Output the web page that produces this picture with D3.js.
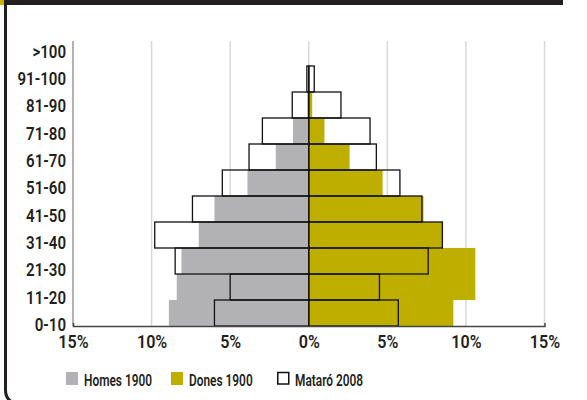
<!DOCTYPE html>
<html>
<head>
<meta charset="utf-8">
<script src="https://cdn.jsdelivr.net/npm/d3@7"></script>
<style>
  html, body { margin: 0; padding: 0; background: #fff; }
  svg { display: block; }
  text { font-family: Roboto, "Noto Sans", sans-serif; font-weight: 600; fill: #231F20; }
</style>
</head>
<body>
<svg id="chart" width="587" height="400"></svg>
<script>
// ---- data ----
const ageGroups = ["0-10","11-20","21-30","31-40","41-50","51-60","61-70","71-80","81-90","91-100",">100"];
const homes1900 = [8.9, 8.4, 8.1, 7.0, 6.0, 3.9, 2.1, 1.0, 0.1, 0, 0];
const dones1900 = [9.2, 10.6, 10.6, 8.55, 7.3, 4.7, 2.6, 1.0, 0.22, 0.05, 0];
const homes2008 = [6.0, 5.0, 8.5, 9.8, 7.4, 5.5, 3.8, 2.95, 1.05, 0.12, 0];
const dones2008 = [5.7, 4.5, 7.6, 8.5, 7.2, 5.8, 4.3, 3.9, 2.05, 0.35, 0];
const xTicks = [-15, -10, -5, 0, 5, 10, 15];
const gridTicks = [-10, -5, 0, 5, 10, 15];
const legendLabels = ["Homes 1900", "Dones 1900", "Mataró 2008"];

// ---- styles ----
const C_GRAY = "#B2B2B5", C_OLIVE = "#BEAE00", C_DARK = "#231F20", C_YELLOW = "#C8B300";
const FONT = "Roboto, 'Noto Sans', sans-serif";

const svg = d3.select("#chart");

// frame
svg.append("rect").attr("x", 0).attr("y", 0).attr("width", 563).attr("height", 5).attr("fill", C_DARK);
svg.append("rect").attr("x", 0).attr("y", 0).attr("width", 4).attr("height", 5).attr("fill", C_YELLOW);
svg.append("path").attr("d", "M5.5,5 V390 Q5.5,398.5 12,402")
  .attr("fill", "none").attr("stroke", C_DARK).attr("stroke-width", 3);

// scales
const x = d3.scaleLinear().domain([-15, 15]).range([73, 544.5]);
const y = d3.scaleBand().domain(ageGroups.slice().reverse()).range([40, 326]).padding(0);
const yLab = d3.scalePoint().domain(ageGroups.slice().reverse()).range([51, 324]);

// gridlines
svg.append("g").selectAll("line").data(gridTicks).join("line")
  .attr("x1", d => x(d)).attr("x2", d => x(d))
  .attr("y1", 41).attr("y2", 326)
  .attr("stroke", "#d8d8d8").attr("stroke-width", 1.5);

const rows = ageGroups.map((g, i) => ({ g, h19: homes1900[i], d19: dones1900[i], h08: homes2008[i], d08: dones2008[i] }));

// 1900 bars
svg.append("g").selectAll("rect").data(rows.filter(r => r.h19 > 0)).join("rect")
  .attr("x", d => x(-d.h19)).attr("width", d => x(0) - x(-d.h19))
  .attr("y", d => y(d.g)).attr("height", y.bandwidth())
  .attr("fill", C_GRAY);
svg.append("g").selectAll("rect").data(rows.filter(r => r.d19 > 0)).join("rect")
  .attr("x", x(0)).attr("width", d => x(d.d19) - x(0))
  .attr("y", d => y(d.g)).attr("height", y.bandwidth())
  .attr("fill", C_OLIVE);

// 2008 outlines
const og = svg.append("g").attr("fill", "none").attr("stroke", "#111").attr("stroke-width", 1.3);
og.selectAll("rect.m").data(rows.filter(r => r.h08 > 0)).join("rect").attr("class", "m")
  .attr("x", d => x(-d.h08)).attr("width", d => x(0) - x(-d.h08))
  .attr("y", d => y(d.g)).attr("height", y.bandwidth());
og.selectAll("rect.f").data(rows.filter(r => r.d08 > 0)).join("rect").attr("class", "f")
  .attr("x", x(0)).attr("width", d => x(d.d08) - x(0))
  .attr("y", d => y(d.g)).attr("height", y.bandwidth());

function squeeze(sel, f) {
  sel.each(function () {
    const w = this.getComputedTextLength();
    d3.select(this).attr("textLength", w * f).attr("lengthAdjust", "spacingAndGlyphs");
  });
}

// y axis
svg.append("line").attr("x1", 73).attr("x2", 73).attr("y1", 41).attr("y2", 326)
  .attr("stroke", "#999").attr("stroke-width", 1.5);
const yAx = svg.append("g").attr("transform", "translate(73,0)")
  .call(d3.axisLeft(yLab).tickSize(0).tickPadding(7));
yAx.select(".domain").remove();
yAx.selectAll("text").attr("font-size", 17.5).attr("dy", "0.36em")
  .style("font-family", FONT).style("font-weight", 600).attr("fill", C_DARK);
squeeze(yAx.selectAll("text"), 0.86);

// x axis
const xAx = svg.append("g").attr("transform", "translate(0,326)")
  .call(d3.axisBottom(x).tickValues(xTicks).tickSizeInner(0).tickSizeOuter(-3).tickFormat(d => Math.abs(d) + "%"));
xAx.select(".domain").attr("stroke", "#444").attr("stroke-width", 1.5);
xAx.selectAll("text").attr("y", 22).attr("dy", 0).attr("font-size", 17.5)
  .style("font-family", FONT).style("font-weight", 600).attr("fill", C_DARK);
squeeze(xAx.selectAll("text"), 0.92);

// legend
const legX = [66, 171, 277];
const lg = svg.append("g");
legendLabels.forEach((lab, i) => {
  const r = lg.append("rect").attr("x", legX[i]).attr("y", 372).attr("width", 12).attr("height", 13);
  if (i === 0) r.attr("fill", C_GRAY);
  else if (i === 1) r.attr("fill", C_OLIVE);
  else r.attr("x", legX[i] + 0.75).attr("y", 372.5).attr("width", 11).attr("height", 11.5)
        .attr("fill", "#fff").attr("stroke", "#111").attr("stroke-width", 1.5);
  const t = lg.append("text").attr("x", legX[i] + 18).attr("y", 385.5).attr("font-size", 16.5)
    .style("font-family", FONT).style("font-weight", 600).text(lab);
  squeeze(t, 0.72);
});
</script>
</body>
</html>
